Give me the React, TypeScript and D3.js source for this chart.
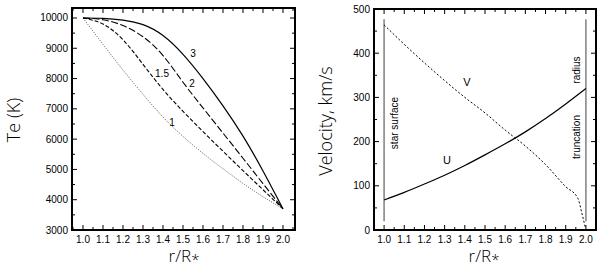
import React from "react";
import * as d3 from "d3";

// left panel: Te profiles
const rGrid = [1.0, 1.1, 1.2, 1.3, 1.4, 1.5, 1.6, 1.7, 1.8, 1.9, 2.0];
const te1 = [10000, 9130, 8280, 7480, 6730, 6090, 5530, 5020, 4540, 4100, 3700];
const te15 = [10000, 9800, 9280, 8470, 7640, 6920, 6250, 5600, 4960, 4330, 3700];
const te2 = [10000, 9940, 9750, 9380, 8760, 7880, 7030, 6200, 5370, 4530, 3700];
const te3 = [10000, 9990, 9930, 9780, 9420, 8800, 8000, 7100, 6100, 4950, 3700];

// right panel: velocities
const rV = [1.0, 1.1, 1.2, 1.3, 1.4, 1.5, 1.6, 1.7, 1.8, 1.9, 1.96, 1.98, 2.0];
const vV = [464, 420, 378, 338, 300, 265, 226, 190, 148, 98, 72, 38, 0];
const rU = [1.0, 1.1, 1.2, 1.3, 1.4, 1.5, 1.6, 1.7, 1.8, 1.9, 2.0];
const vU = [68, 85, 104, 124, 146, 170, 195, 222, 252, 285, 320];

const xTicks = [1.0, 1.1, 1.2, 1.3, 1.4, 1.5, 1.6, 1.7, 1.8, 1.9, 2.0];
const teTicks = [3000, 4000, 5000, 6000, 7000, 8000, 9000, 10000];
const vTicks = [0, 100, 200, 300, 400, 500];
const markerR = [1.0, 2.0];
const markerV = [20, 477];

const tickFont = "'Liberation Sans', Arial, sans-serif";
const titleFont = "'Open Sans', 'DejaVu Sans', sans-serif";

type Sc = d3.ScaleLinear<number, number>;

function Frame({ x, y, xMinor, yMinor, xLabels, yLabels }: {
  x: Sc; y: Sc; xMinor: number[]; yMinor: number[]; xLabels: number[]; yLabels: number[];
}) {
  const [x0, x1] = x.range();
  const [y0, y1] = y.range();
  const major = 5, minor = 3;
  const isMajorX = (d: number) => xLabels.some((t) => Math.abs(t - d) < 1e-6);
  const isMajorY = (d: number) => yLabels.some((t) => Math.abs(t - d) < 1e-6);
  return (
    <g>
      {xMinor.map((d, i) => {
        const len = isMajorX(d) ? major : minor;
        const px = x(d);
        return (
          <g key={"xt" + i} stroke="#000" strokeWidth={1}>
            <line x1={px} x2={px} y1={y0} y2={y0 - len} />
            <line x1={px} x2={px} y1={y1} y2={y1 + len} />
          </g>
        );
      })}
      {yMinor.map((d, i) => {
        const len = isMajorY(d) ? major : minor;
        const py = y(d);
        return (
          <g key={"yt" + i} stroke="#000" strokeWidth={1}>
            <line x1={x0} x2={x0 + len} y1={py} y2={py} />
            <line x1={x1} x2={x1 - len} y1={py} y2={py} />
          </g>
        );
      })}
      <rect x={x0} y={y1} width={x1 - x0} height={y0 - y1} fill="none" stroke="#000" strokeWidth={2} />
      {xLabels.map((d, i) => (
        <text key={"xl" + i} x={x(d)} y={y0 + 13} fontSize={10} fontFamily={tickFont} textAnchor="middle">
          {d.toFixed(1)}
        </text>
      ))}
      {yLabels.map((d, i) => (
        <text key={"yl" + i} x={x0 - 4} y={y(d) + 3.5} fontSize={10} fontFamily={tickFont} textAnchor="end">
          {String(d)}
        </text>
      ))}
    </g>
  );
}

function RLabel({ cx, cy }: { cx: number; cy: number }) {
  return (
    <text x={cx} y={cy} fontSize={17} fontFamily={titleFont} fontWeight={300} textAnchor="middle">
      r/R<tspan fontSize={15} dy={3}>*</tspan>
    </text>
  );
}

export default function App() {
  const xL = d3.scaleLinear().domain([0.945, 2.06]).range([72, 295]);
  const yL = d3.scaleLinear().domain([3000, 10330]).range([230, 8]);
  const xR = d3.scaleLinear().domain([0.95, 2.05]).range([374, 596]);
  const yR = d3.scaleLinear().domain([0, 500]).range([230, 9]);

  const lineL = (vals: number[]) =>
    d3.line<number>().x((_, i) => xL(rGrid[i])).y((d) => yL(d)).curve(d3.curveNatural)(vals) || "";
  const lineR = (rs: number[], vals: number[], curve: d3.CurveFactory) =>
    d3.line<number>().x((_, i) => xR(rs[i])).y((d) => yR(d)).curve(curve)(vals) || "";

  const xMinorL = d3.range(0.95, 2.06, 0.05).map((d) => +d.toFixed(2));
  const xMinorR = d3.range(0.95, 2.05, 0.05).map((d) => +d.toFixed(2));
  const yMinorL = d3.range(3500, 10330, 500);
  const yMinorR = d3.range(50, 500, 50);

  return (
    <svg width={600} height={270} style={{ position: "absolute", left: 0, top: 0, background: "#fff" }}>
      {/* left panel */}
      <Frame x={xL} y={yL} xMinor={xMinorL} yMinor={yMinorL} xLabels={xTicks} yLabels={teTicks} />
      <path d={lineL(te1)} fill="none" stroke="#444" strokeWidth={0.9} strokeDasharray="1,1.5" />
      <path d={lineL(te15)} fill="none" stroke="#000" strokeWidth={1.1} strokeDasharray="4,2" />
      <path d={lineL(te2)} fill="none" stroke="#000" strokeWidth={1.1} strokeDasharray="7,2.5" />
      <path d={lineL(te3)} fill="none" stroke="#000" strokeWidth={1.2} />
      <g fontSize={10} fontFamily={tickFont}>
        <text x={193} y={57} textAnchor="middle">3</text>
        <text x={192} y={87} textAnchor="middle">2</text>
        <text x={162} y={77} textAnchor="middle">1.5</text>
        <text x={172} y={126} textAnchor="middle">1</text>
      </g>
      <text transform="translate(20,120) rotate(-90)" fontSize={18} fontFamily={titleFont} fontWeight={300} textAnchor="middle">
        Te (K)
      </text>
      <RLabel cx={184} cy={262} />

      {/* right panel */}
      <Frame x={xR} y={yR} xMinor={xMinorR} yMinor={yMinorR} xLabels={xTicks} yLabels={vTicks} />
      {markerR.map((r, i) => (
        <line key={"m" + i} x1={xR(r)} x2={xR(r)} y1={yR(markerV[0])} y2={yR(markerV[1])} stroke="#888" strokeWidth={1.6} />
      ))}
      <path d={lineR(rV, vV, d3.curveMonotoneX)} fill="none" stroke="#000" strokeWidth={1} strokeDasharray="2,2" />
      <path d={lineR(rU, vU, d3.curveNatural)} fill="none" stroke="#000" strokeWidth={1.2} />
      <g fontSize={11} fontFamily={tickFont}>
        <text x={467} y={86} textAnchor="middle">V</text>
        <text x={447} y={164} textAnchor="middle">U</text>
      </g>
      <g fontSize={10} fontFamily={tickFont}>
        <text transform="translate(398,123) rotate(-90)" textAnchor="middle">star surface</text>
        <text transform="translate(580,70) rotate(-90)" textAnchor="middle">radius</text>
        <text transform="translate(580,137) rotate(-90)" textAnchor="middle">truncation</text>
      </g>
      <text transform="translate(332,121) rotate(-90)" fontSize={18} fontFamily={titleFont} fontWeight={300} textAnchor="middle">
        Velocity, km/s
      </text>
      <RLabel cx={484} cy={262} />
    </svg>
  );
}
